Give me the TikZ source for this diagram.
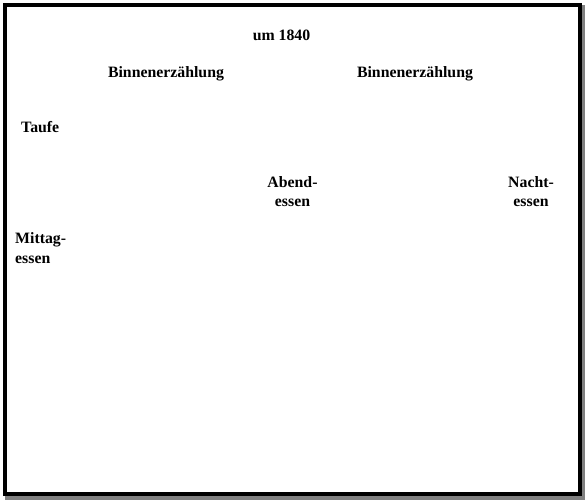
\documentclass[tikz,border=0pt]{standalone}
\usepackage{fontspec}
\setmainfont{Liberation Serif}
\definecolor{shadowgray}{RGB}{128,128,128}
\tikzset{
  label/.style={inner sep=0pt,font=\fontsize{15.8}{19.5}\selectfont\bfseries},
  frame/.style={draw=black,line width=4pt,fill=white}
}
\begin{document}
\begin{tikzpicture}[x=1pt,y=-1pt]
\useasboundingbox (0,0) rectangle (588,502);

%FRAME
% shadow
\fill[shadowgray] (5,5) rectangle (585,500);
% box
\draw[frame] (5,5) rectangle (580,494);

%LABELS
\node[label,anchor=base] (jahr) at (281.5,41) {um 1840};
\node[label,anchor=base] (binnenA) at (166,78) {Binnenerzählung};
\node[label,anchor=base] (binnenB) at (415,78) {Binnenerzählung};
\node[label,anchor=base west] (taufe) at (21,133) {Taufe};

%meals (base = last line)
\node[label,anchor=base west,align=left] (mittag) at (15,263) {Mittag-\\essen};
\node[label,anchor=base,align=center] (abend) at (292.5,207) {Abend-\\essen};
\node[label,anchor=base,align=center] (nacht) at (531,207) {Nacht-\\essen};

\end{tikzpicture}
\end{document}
